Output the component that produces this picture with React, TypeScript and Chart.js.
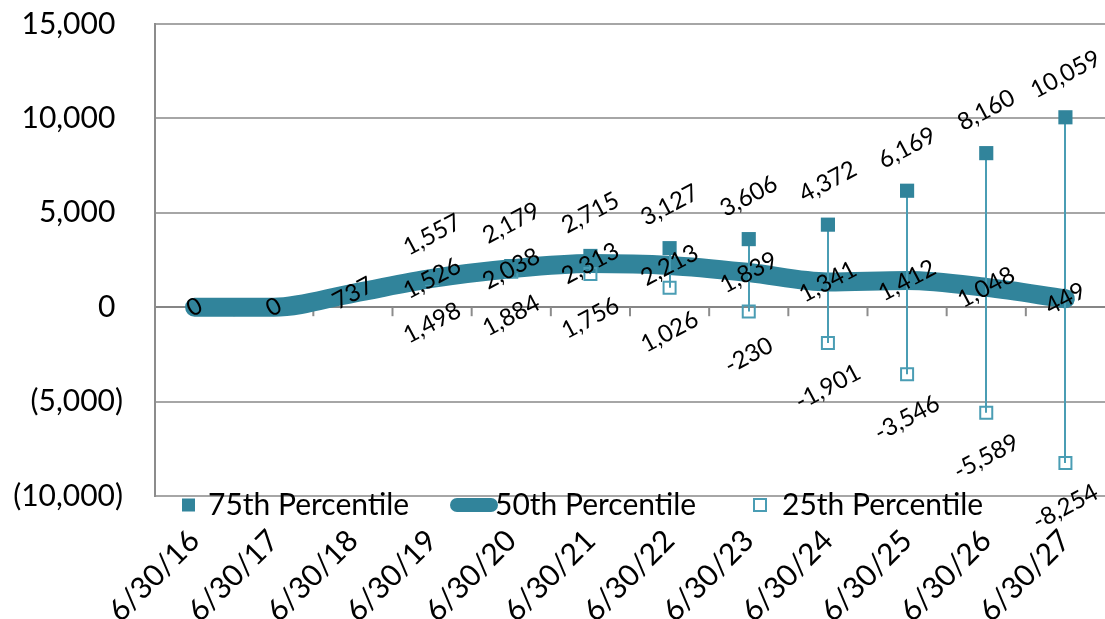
import React, { useEffect, useRef } from "react";
import { Chart, registerables } from "chart.js";

Chart.register(...registerables);

const categories = [
  "6/30/16", "6/30/17", "6/30/18", "6/30/19", "6/30/20", "6/30/21",
  "6/30/22", "6/30/23", "6/30/24", "6/30/25", "6/30/26", "6/30/27",
];
const p75 = [null, null, null, 1557, 2179, 2715, 3127, 3606, 4372, 6169, 8160, 10059];
const p50 = [0, 0, 737, 1526, 2038, 2313, 2213, 1839, 1341, 1412, 1048, 449];
const p25 = [null, null, null, 1498, 1884, 1756, 1026, -230, -1901, -3546, -5589, -8254];
const seriesNames = ["75th Percentile", "50th Percentile", "25th Percentile"];
const yMin = -10000;
const yMax = 15000;
const yStep = 5000;

const TEAL = "#31849B";
const TEAL_LIGHT = "#4A9DB4";
const FONT = "Lato, 'Open Sans', sans-serif";

const fmtNum = (v: number) => v.toLocaleString("en-US");
const fmtAxis = (v: number) =>
  v < 0 ? `(${Math.abs(v).toLocaleString("en-US")})` : `${v.toLocaleString("en-US")} `;

export default function App() {
  const ref = useRef<HTMLCanvasElement>(null);

  useEffect(() => {
    const canvas = ref.current;
    if (!canvas) return;

    const highLow = {
      id: "highLow",
      afterDatasetDraw(chart: any, args: any) {
        if (args.index !== 1) return;
        const ctx = chart.ctx;
        const y = chart.scales.y;
        const x = chart.scales.x;
        ctx.save();
        ctx.strokeStyle = TEAL_LIGHT;
        ctx.lineWidth = 2;
        for (let i = 0; i < categories.length; i++) {
          const hi = p75[i];
          const lo = p25[i];
          if (hi == null || lo == null) continue;
          const px = Math.round(x.getPixelForValue(i));
          ctx.beginPath();
          ctx.moveTo(px, y.getPixelForValue(hi));
          ctx.lineTo(px, y.getPixelForValue(lo));
          ctx.stroke();
        }
        ctx.restore();
      },
    };

    const axisTicks = {
      id: "axisTicks",
      beforeDatasetsDraw(chart: any) {
        const ctx = chart.ctx;
        const x = chart.scales.x;
        const y0 = chart.scales.y.getPixelForValue(0);
        ctx.save();
        ctx.strokeStyle = "#8c8c8c";
        ctx.lineWidth = 2;
        for (let i = 1; i < categories.length; i++) {
          const bx = (x.getPixelForValue(i) + x.getPixelForValue(i - 1)) / 2;
          ctx.beginPath();
          ctx.moveTo(bx, y0);
          ctx.lineTo(bx, y0 + 9);
          ctx.stroke();
        }
        ctx.restore();
      },
    };

    const dataLabels = {
      id: "dataLabels",
      afterDatasetsDraw(chart: any) {
        const ctx = chart.ctx;
        const offsets = [-43, 0, 44];
        const sets = [p75, p50, p25];
        ctx.save();
        ctx.fillStyle = "#000";
        ctx.font = `24px ${FONT}`;
        ctx.textAlign = "center";
        ctx.textBaseline = "middle";
        sets.forEach((vals, di) => {
          const meta = chart.getDatasetMeta(di);
          vals.forEach((v, j) => {
            if (v == null) return;
            const el = meta.data[j];
            ctx.save();
            ctx.translate(el.x, el.y + offsets[di]);
            ctx.rotate((-28 * Math.PI) / 180);
            ctx.fillText(fmtNum(v), 0, 0);
            ctx.restore();
          });
        });
        ctx.restore();
      },
    };

    const legend = {
      id: "customLegend",
      afterDraw(chart: any) {
        const ctx = chart.ctx;
        const cy = chart.chartArea.bottom + 9;
        ctx.save();
        ctx.font = `30px ${FONT}`;
        ctx.fillStyle = "#000";
        ctx.textAlign = "left";
        ctx.textBaseline = "middle";
        // 75th
        ctx.fillStyle = TEAL;
        ctx.fillRect(182, cy - 6.5, 13, 13);
        ctx.fillStyle = "#000";
        ctx.fillText(seriesNames[0], 208, cy);
        // 50th
        ctx.strokeStyle = TEAL;
        ctx.lineWidth = 14;
        ctx.lineCap = "round";
        ctx.beginPath();
        ctx.moveTo(457, cy);
        ctx.lineTo(491, cy);
        ctx.stroke();
        ctx.fillText(seriesNames[1], 495, cy);
        // 25th
        ctx.strokeStyle = TEAL_LIGHT;
        ctx.lineWidth = 2;
        ctx.lineCap = "butt";
        ctx.strokeRect(754, cy - 6, 12, 12);
        ctx.fillText(seriesNames[2], 782, cy);
        ctx.restore();
      },
    };

    const chart = new Chart(canvas, {
      type: "line",
      data: {
        labels: categories,
        datasets: [
          {
            label: seriesNames[0],
            data: p75,
            showLine: false,
            pointStyle: "rect",
            pointRadius: 10,
            pointBorderWidth: 0,
            pointBackgroundColor: TEAL,
            pointBorderColor: TEAL,
            borderColor: TEAL,
            order: 1,
          },
          {
            label: seriesNames[1],
            data: p50,
            borderColor: TEAL,
            borderWidth: 19,
            borderCapStyle: "round",
            borderJoinStyle: "round",
            cubicInterpolationMode: "monotone",
            pointRadius: 0,
            order: 3,
          },
          {
            label: seriesNames[2],
            data: p25,
            showLine: false,
            pointStyle: "rect",
            pointRadius: 8.5,
            pointBorderWidth: 2,
            pointBackgroundColor: "rgba(0,0,0,0)",
            pointBorderColor: TEAL_LIGHT,
            borderColor: TEAL_LIGHT,
            order: 2,
          },
        ],
      } as any,
      options: {
        animation: false,
        responsive: false,
        maintainAspectRatio: false,
        layout: { autoPadding: false, padding: { top: 0, right: 0, left: 0, bottom: 0 } },
        plugins: {
          legend: { display: false },
          tooltip: { enabled: false },
        },
        scales: {
          x: {
            offset: true,
            grid: { display: false, drawTicks: false },
            border: { display: false },
            ticks: {
              minRotation: 45,
              maxRotation: 45,
              autoSkip: false,
              padding: 27,
              color: "#000",
              font: { family: FONT, size: 30 },
            },
            afterFit(scale: any) {
              scale.height = 123;
              scale.paddingLeft = 0;
              scale.paddingRight = 0;
            },
          },
          y: {
            min: yMin,
            max: yMax,
            grid: {
              color: (c: any) => (c.tick && c.tick.value === 0 ? "#868686" : "#a6a6a6"),
              lineWidth: 2,
              drawTicks: false,
            },
            border: { display: true, color: "#8c8c8c", width: 2 },
            ticks: {
              stepSize: yStep,
              padding: 32,
              color: "#000",
              font: { family: FONT, size: 30 },
              callback: (v: any) => fmtAxis(Number(v)),
            },
            afterFit(scale: any) {
              scale.width = 155;
              scale.paddingTop = 24;
              scale.paddingBottom = 0;
            },
          },
        },
      },
      plugins: [axisTicks, highLow, dataLabels, legend],
    } as any);

    return () => chart.destroy();
  }, []);

  return (
    <div style={{ position: "fixed", left: 0, top: 0, width: 1105, height: 619, background: "#fff" }}>
      <canvas ref={ref} width={1105} height={619} style={{ display: "block" }} />
    </div>
  );
}
